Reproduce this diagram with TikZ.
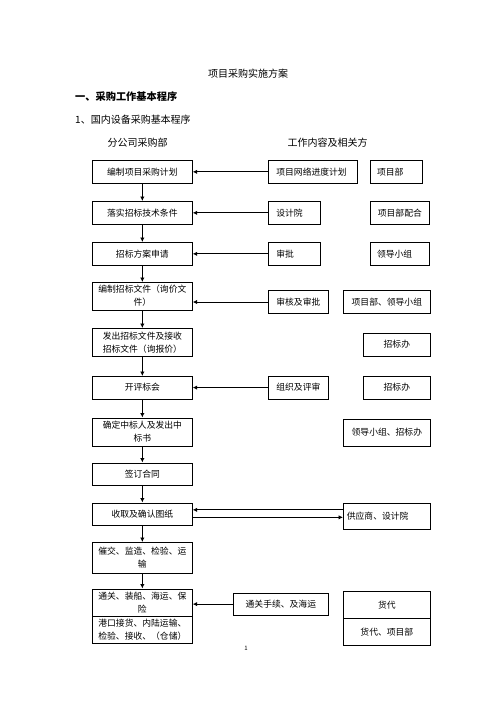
\documentclass[tikz,border=0pt]{standalone}
\usepackage{fontspec}
\setmainfont{Noto Sans CJK SC}
\usetikzlibrary{arrows.meta}

\begin{document}
\begin{tikzpicture}[x=1pt,y=-1pt,
  box/.style={draw, line width=0.7pt, inner xsep=2pt, inner ysep=0pt, align=center,
    anchor=north west, font=\fontsize{8.8}{13}\selectfont},
  lbox/.style={box, align=left},
  arr/.style={-{Latex[length=4.5pt,width=4.5pt]}, line width=0.9pt}]
\useasboundingbox (0,0) rectangle (496,702);
\node [font=\fontsize{10}{12}\selectfont] (title) at (248,74) {项目采购实施方案};
\node [anchor=west, inner sep=0pt, font=\fontsize{10.2}{12}\selectfont\bfseries] (head) at (75,97) {一、采购工作基本程序};
\node [anchor=west, inner sep=0pt, font=\fontsize{10}{12}\selectfont] (sub) at (75,120) {1、国内设备采购基本程序};
\node [font=\fontsize{10}{12}\selectfont] (hdra) at (137.5,143) {分公司采购部};
\node [font=\fontsize{10}{12}\selectfont] (hdrb) at (327.5,143) {工作内容及相关方};
\node [box, text width=96pt, minimum height=23pt] (jh) at (92,160) {编制项目采购计划};
\node [box, text width=96pt, minimum height=23pt] (js) at (92,201) {落实招标技术条件};
\node [box, text width=96pt, minimum height=23pt] (sq) at (92,242) {招标方案申请};
\node [box, text width=96pt, minimum height=27.5pt] (wj) at (92,282) {编制招标文件（询价文\\件）};
\node [box, text width=96pt, minimum height=28pt] (fc) at (92,328) {发出招标文件及接收\\招标文件（询报价）};
\node [box, text width=96pt, minimum height=22.5pt] (pb) at (92,376) {开评标会};
\node [box, text width=96pt, minimum height=28pt] (zb) at (92,417.5) {确定中标人及发出中\\标书};
\node [box, text width=96pt, minimum height=22.5pt] (ht) at (92,462.5) {签订合同};
\node [box, text width=96pt, minimum height=22pt] (tz) at (92,502.5) {收取及确认图纸};
\node [box, text width=96pt, minimum height=30.5pt] (cj) at (92,542) {催交、监造、检验、运\\输};
\node [box, text width=96pt, minimum height=27pt] (tg) at (92,588.5) {通关、装船、海运、保\\险};
\node [box, text width=96pt, minimum height=27pt] (gk) at (tg.south west) {港口接货、内陆运输、\\检验、接收、（仓储）};
\node [lbox, inner xsep=8pt, text width=73pt, minimum height=23pt] (wl) at (268,160) {项目网络进度计划};
\node [lbox, inner xsep=8pt, text width=36pt, minimum height=23pt] (sjy) at (268,201) {设计院};
\node [lbox, inner xsep=8pt, text width=36pt, minimum height=23pt] (sp) at (268,242) {审批};
\node [lbox, inner xsep=8pt, text width=44pt, minimum height=23.3pt] (shsp) at (268,290) {审核及审批};
\node [lbox, inner xsep=8pt, text width=44pt, minimum height=22.5pt] (zzps) at (268,376) {组织及评审};
\node [box, text width=91pt, minimum height=22.5pt] (tgsx) at (233,592.5) {通关手续、及海运};
\node [lbox, inner xsep=6.7pt, text width=38.6pt, minimum height=23pt] (xmb) at (370,160) {项目部};
\node [box, text width=55pt, minimum height=23pt] (xmbph) at (370,201) {项目部配合};
\node [lbox, inner xsep=6.7pt, text width=45.6pt, minimum height=23pt] (ldxz) at (370,242) {领导小组};
\node [box, text width=83pt, minimum height=23.3pt] (xmld) at (343,290) {项目部、领导小组};
\node [box, text width=63pt, minimum height=23.5pt] (zbb) at (363,332.5) {招标办};
\node [box, text width=63pt, minimum height=22.5pt] (zbbp) at (363,376) {招标办};
\node [box, text width=83pt, minimum height=27.3pt] (ldzb) at (343,418.5) {领导小组、招标办};
\node [lbox, inner xsep=3.5pt, text width=80pt, minimum height=26pt] (gys) at (343,502.5) {供应商、设计院};
\node [box, text width=83pt, minimum height=26.7pt] (hd) at (343,591) {货代};
\node [box, text width=83pt, minimum height=26.6pt] (hdxm) at (hd.south west) {货代、项目部};
\node [font=\fontsize{6}{7}\selectfont] (page) at (246,648) {1};
\foreach \a/\b in {jh/js,js/sq,sq/wj,wj/fc,fc/pb,pb/zb,zb/ht,ht/tz,tz/cj,cj/tg}
  \draw [arr] (\a.south) -- (\b.north);
\foreach \a/\b in {wl/jh,sjy/js,sp/sq,shsp/wj,zzps/pb,tgsx/tg}
  \draw [arr] (\a.west) -- (\a.west -| \b.east);
\draw [arr] ([yshift=4pt]tz.east -| gys.west) -- ([yshift=4pt]tz.east);
\draw [arr] ([yshift=-3.5pt]tz.east) -- ([yshift=-3.5pt]tz.east -| gys.west);
\end{tikzpicture}
\end{document}
